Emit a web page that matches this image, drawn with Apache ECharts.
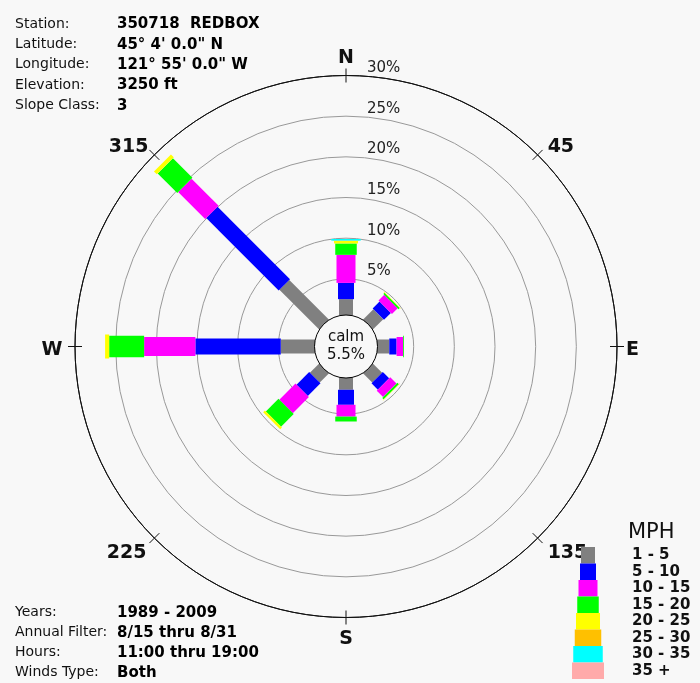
<!DOCTYPE html>
<html>
<head>
<meta charset="utf-8">
<script src="https://cdn.jsdelivr.net/npm/echarts@6/dist/echarts.min.js"></script>
<style>
html,body{margin:0;padding:0;background:#f8f8f8;}
#chart{width:700px;height:683px;}
</style>
</head>
<body>
<div id="chart"></div>
<script>
// ---- data ----
const dirLabels = ['N', '45', 'E', '135', 'S', '225', 'W', '315'];
const dirAngles = [0, 45, 90, 135, 180, 225, 270, 315];
const speedClasses = ['1 - 5', '5 - 10', '10 - 15', '15 - 20', '20 - 25', '25 - 30', '30 - 35', '35 +'];
// percent of time, per direction (N, 45, E, 135, S, 225, W, 315)
const mph1to5   = [2.5, 2.3, 2.0, 2.1, 2.0, 2.1, 4.7, 7.4];
const mph5to10  = [2.0, 1.2, 0.9, 1.1, 1.85, 2.2, 10.5, 12.6];
const mph10to15 = [3.45, 1.0, 0.8, 1.1, 1.45, 2.8, 6.3, 4.7];
const mph15to20 = [1.4, 0.2, 0.1, 0.25, 0.6, 2.2, 4.3, 3.4];
const mph20to25 = [0.3, 0.05, 0, 0.05, 0, 0.3, 0.5, 0.5];
const mph25to30 = [0.05, 0, 0, 0, 0, 0, 0, 0];
const mph30to35 = [0.2, 0, 0, 0, 0, 0, 0, 0];
const mph35plus = [0, 0, 0, 0, 0, 0, 0, 0];
const calmPct = 5.5;
const ringTicks = [0, 5, 10, 15, 20, 25, 30];
const infoTopLabels = ['Station:', 'Latitude:', 'Longitude:', 'Elevation:', 'Slope Class:'];
const infoTopValues = ['350718  REDBOX', '45° 4\' 0.0" N', '121° 55\' 0.0" W', '3250 ft', '3'];
const infoBottomLabels = ['Years:', 'Annual Filter:', 'Hours:', 'Winds Type:'];
const infoBottomValues = ['1989 - 2009', '8/15 thru 8/31', '11:00 thru 19:00', 'Both'];

// ---- styles ----
const classSeries = [mph1to5, mph5to10, mph10to15, mph15to20, mph20to25, mph25to30, mph30to35, mph35plus];
const classColors = ['#808080', '#0000ff', '#ff00ff', '#00ff00', '#ffff00', '#ffc000', '#00ffff', '#ffaaaa'];
const classWidths = [14, 16, 19, 21.5, 24, 26.5, 29.5, 32];
const FONT = 'DejaVu Sans';
const CX = 346, CY = 346.5, R0 = 27, R1 = 271;
// per-direction label offsets [top, right, bottom, left]
const dirLabelPad = [[0, 0, 21.5, 0], [0, 0, 2, 10], [7, 0, 0, 9], [16.4, 0, 0, 10], [29, 0, 0, 0], [16, 8, 0, 0], [7, 12.5, 0, 0], [0, 6, 2, 0]];

// cumulative stacking
const cum = dirAngles.map(() => 0);
const series = classSeries.map((vals, si) => {
  const data = vals.map((v, di) => {
    const s = cum[di];
    cum[di] += v;
    return [dirAngles[di], s, cum[di]];
  });
  const w = classWidths[si];
  return {
    type: 'custom',
    name: speedClasses[si],
    coordinateSystem: 'polar',
    polarIndex: 0,
    itemStyle: { color: classColors[si] },
    encode: { angle: 0, radius: [1, 2] },
    z: 2,
    silent: true,
    data: data,
    renderItem: function (params, api) {
      const ang = api.value(0), a = api.value(1), b = api.value(2);
      if (!(b > a)) return null;
      const p0 = api.coord([a, ang]);
      const p1 = api.coord([b, ang]);
      const c = api.coord([0, ang]);
      const f = api.coord([30, ang]);
      let dx = f[0] - c[0], dy = f[1] - c[1];
      const len = Math.sqrt(dx * dx + dy * dy);
      dx /= len; dy /= len;
      const nx = -dy * w / 2, ny = dx * w / 2;
      return {
        type: 'polygon',
        shape: { points: [[p0[0] + nx, p0[1] + ny], [p1[0] + nx, p1[1] + ny], [p1[0] - nx, p1[1] - ny], [p0[0] - nx, p0[1] - ny]] },
        style: { fill: api.visual('color') }
      };
    }
  };
});

series.push({
  type: 'pie',
  name: 'calm',
  center: [CX, CY],
  radius: [0, 31.5],
  silent: true,
  z: 6,
  startAngle: 90,
  data: [{ value: calmPct, name: 'calm' }],
  itemStyle: { color: '#f8f8f8', borderColor: '#000', borderWidth: 1 },
  label: { show: true, position: 'center', formatter: 'calm\n{c}%', fontFamily: FONT, fontSize: 15, lineHeight: 18, color: '#111' },
  labelLine: { show: false },
  emphasis: { disabled: true }
});

const graphics = [];
infoTopLabels.forEach((t, i) => {
  graphics.push({ type: 'text', left: 15, top: 17 + i * 20.3, style: { text: t, font: '14px "' + FONT + '"', fill: '#111' } });
  graphics.push({ type: 'text', left: 117, top: 17 + i * 20.3, style: { text: infoTopValues[i], font: 'bold 15px "' + FONT + '"', fill: '#000' } });
});
infoBottomLabels.forEach((t, i) => {
  graphics.push({ type: 'text', left: 15, top: 605.5 + i * 20, style: { text: t, font: '14px "' + FONT + '"', fill: '#111' } });
  graphics.push({ type: 'text', left: 117, top: 605.5 + i * 20, style: { text: infoBottomValues[i], font: 'bold 15px "' + FONT + '"', fill: '#000' } });
});

const legends = speedClasses.map((name, i) => ({
  data: [name],
  left: 588 - classWidths[i] / 2,
  top: 547 + i * 16.5,
  padding: 0,
  itemGap: 0,
  itemWidth: classWidths[i],
  itemHeight: 16.5,
  icon: 'rect',
  selectedMode: false,
  textStyle: { fontFamily: FONT, fontWeight: 'bold', fontSize: 15, color: '#111', padding: [0, 0, 0, 39 - classWidths[i] / 2] }
}));

const dirRich = {};
dirLabelPad.forEach((p, i) => {
  dirRich['d' + i] = { fontFamily: FONT, fontSize: 19, fontWeight: 'bold', color: '#111', lineHeight: 14, padding: p };
});

const option = {
  backgroundColor: '#f8f8f8',
  animation: false,
  title: { text: 'MPH', left: 628, top: 522, padding: 0, textStyle: { fontFamily: FONT, fontSize: 21, fontWeight: 'normal', color: '#111' } },
  legend: legends,
  graphic: graphics,
  polar: [
    { center: [CX, CY], radius: [R0, R1] },
    { center: [CX, CY], radius: [R0, R1] }
  ],
  angleAxis: [
    {
      polarIndex: 0, type: 'value', min: 0, max: 360, interval: 45, startAngle: 90, clockwise: true,
      axisLine: { show: true, lineStyle: { color: '#111', width: 1 } },
      axisTick: { show: true, length: 7, lineStyle: { color: '#111' } },
      axisLabel: {
        show: true, margin: 0, fontFamily: FONT, fontSize: 19, fontWeight: 'bold', color: '#111',
        formatter: v => { const i = Math.round(v / 45); return dirLabels[i] ? '{d' + i + '|' + dirLabels[i] + '}' : ''; },
        rich: dirRich
      },
      splitLine: { show: false }
    },
    {
      polarIndex: 1, type: 'value', min: 0, max: 360, interval: 45, startAngle: 90, clockwise: true,
      axisLine: { show: false },
      axisTick: { show: true, inside: true, length: 7, lineStyle: { color: '#111' } },
      axisLabel: { show: false },
      splitLine: { show: false }
    }
  ],
  radiusAxis: [
    {
      polarIndex: 0, type: 'value', min: ringTicks[0], max: ringTicks[ringTicks.length - 1], interval: 5,
      axisLine: { show: false }, axisTick: { show: false },
      axisLabel: {
        show: true, margin: -21, align: 'left', verticalAlign: 'bottom', fontFamily: FONT, fontSize: 15, color: '#222',
        formatter: v => (v > 0 ? v + '%' : '')
      },
      splitLine: { show: true, lineStyle: { color: ['#999', '#999', '#999', '#999', '#999', '#999', '#111'], width: 1 } }
    },
    { polarIndex: 1, type: 'value', min: 0, max: 30, show: false }
  ],
  series: series
};

const chart = echarts.init(document.getElementById('chart'), null, { renderer: 'canvas' });
chart.setOption(option);
</script>
</body>
</html>
